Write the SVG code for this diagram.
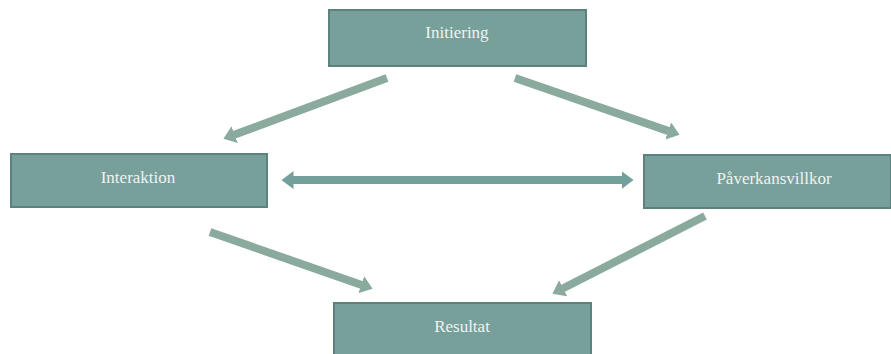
<svg xmlns="http://www.w3.org/2000/svg" width="891" height="354" viewBox="0 0 891 354">
<style>
.box{fill:#78a09b;stroke:#5c827d;stroke-width:2}
.lbl{font-family:"Liberation Serif",serif;font-size:17px;fill:#eef3f0;text-anchor:middle;dominant-baseline:central}
.diag{stroke:#8aaa9e;stroke-width:8;fill:none}
.hor{stroke:#72a09a;stroke-width:8;fill:none}
</style>
<defs>
<marker id="hd" viewBox="0 0 12 18" refX="0.5" refY="9" markerWidth="12" markerHeight="18" markerUnits="userSpaceOnUse" orient="auto"><path d="M0,0 L12,9 L0,18 z" fill="#8aaa9e"/></marker>
<marker id="hh" viewBox="0 0 12 18" refX="0.5" refY="9" markerWidth="12" markerHeight="18" markerUnits="userSpaceOnUse" orient="auto-start-reverse"><path d="M0,0 L12,9 L0,18 z" fill="#72a09a"/></marker>
</defs>
<rect width="891" height="354" fill="#ffffff"/>
<g id="connectors">
<line class="diag" x1="387" y1="78" x2="234.2" y2="134.8" marker-end="url(#hd)"/>
<line class="diag" x1="515" y1="78" x2="668.7" y2="131.1" marker-end="url(#hd)"/>
<line class="diag" x1="210" y1="232" x2="361.7" y2="285" marker-end="url(#hd)"/>
<line class="diag" x1="705" y1="216" x2="562.7" y2="288.5" marker-end="url(#hd)"/>
<line class="hor" x1="293" y1="180" x2="622" y2="180" marker-start="url(#hh)" marker-end="url(#hh)"/>
</g>
<g id="initiering">
<rect class="box" x="329" y="10" width="257" height="56"/>
<text class="lbl" x="457" y="32">Initiering</text>
</g>
<g id="interaktion">
<rect class="box" x="11" y="154" width="256" height="53"/>
<text class="lbl" x="138" y="177">Interaktion</text>
</g>
<g id="paverkansvillkor">
<rect class="box" x="644" y="155" width="247" height="53"/>
<text class="lbl" x="774" y="178">Påverkansvillkor</text>
</g>
<g id="resultat">
<rect class="box" x="334" y="303" width="257" height="60"/>
<text class="lbl" x="462" y="326">Resultat</text>
</g>
</svg>
